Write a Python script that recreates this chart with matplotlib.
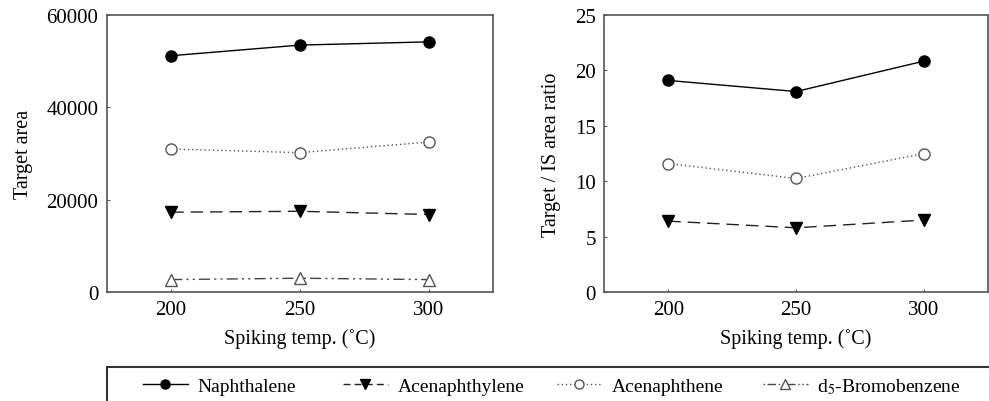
import matplotlib
matplotlib.use("Agg")
import matplotlib.pyplot as plt
from matplotlib.lines import Line2D
from matplotlib.patches import Rectangle

plt.rcParams['font.family'] = ['Liberation Serif', 'DejaVu Serif']
plt.rcParams['mathtext.fontset'] = 'stix'

temps = [200, 250, 300]
series_names = ["Naphthalene", "Acenaphthylene", "Acenaphthene", "d$_5$-Bromobenzene"]

area_naphthalene = [51200, 53500, 54200]
area_acenaphthylene = [17300, 17500, 16800]
area_acenaphthene = [31000, 30200, 32500]
area_bromobenzene = [2700, 3000, 2700]

ratio_naphthalene = [19.1, 18.1, 20.85]
ratio_acenaphthylene = [6.4, 5.8, 6.5]
ratio_acenaphthene = [11.6, 10.25, 12.5]

styles = {
    "Naphthalene": dict(color='black', linestyle='-', marker='o', markerfacecolor='black',
                        markeredgecolor='black', markersize=8, linewidth=1.0),
    "Acenaphthylene": dict(color='#222222', linestyle=(0, (9, 5)), marker='v', markerfacecolor='black',
                           markeredgecolor='black', markersize=9, linewidth=1.0),
    "Acenaphthene": dict(color='#555555', linestyle=(0, (1, 2)), marker='o', markerfacecolor='white',
                         markeredgecolor='#555555', markersize=8, linewidth=1.0),
    "d$_5$-Bromobenzene": dict(color='#444444', linestyle=(0, (8, 3, 1.5, 3, 1.5, 3)), marker='^',
                               markerfacecolor='white', markeredgecolor='#555555', markersize=9, linewidth=1.0),
}
legend_styles = {
    "Naphthalene": dict(color='black', linestyle='-', marker='o', markerfacecolor='black',
                        markeredgecolor='black', markersize=6.5, linewidth=1.0),
    "Acenaphthylene": dict(color='#222222', linestyle=(0, (5, 3)), marker='v', markerfacecolor='black',
                           markeredgecolor='black', markersize=7, linewidth=1.0),
    "Acenaphthene": dict(color='#555555', linestyle=(0, (1, 2)), marker='o', markerfacecolor='white',
                         markeredgecolor='#555555', markersize=6.5, linewidth=1.0),
    "d$_5$-Bromobenzene": dict(color='#444444', linestyle=(0, (1, 2, 6, 2, 1, 2)), marker='^',
                               markerfacecolor='white', markeredgecolor='#555555', markersize=7, linewidth=1.0),
}

W, H = 989, 402
fig = plt.figure(figsize=(W / 100, H / 100), dpi=100)
ax1 = fig.add_axes([0.108, 0.271, 0.3905, 0.689])
ax2 = fig.add_axes([0.611, 0.271, 0.388, 0.689])

left_data = [area_naphthalene, area_acenaphthylene, area_acenaphthene, area_bromobenzene]
for name, vals in zip(series_names, left_data):
    ax1.plot(temps, vals, **styles[name])
right_data = [ratio_naphthalene, ratio_acenaphthylene, ratio_acenaphthene]
for name, vals in zip(series_names[:3], right_data):
    ax2.plot(temps, vals, **styles[name])

ax1.set_ylim(0, 60000)
ax1.set_yticks([0, 20000, 40000, 60000])
ax2.set_ylim(0, 25)
ax2.set_yticks([0, 5, 10, 15, 20, 25])
for ax in (ax1, ax2):
    ax.set_xlim(175, 325)
    ax.set_xticks(temps)
    ax.tick_params(labelsize=15, direction='in', length=2, color='#555555', pad=6)
    for s in ax.spines.values():
        s.set_color('#555555')
        s.set_linewidth(1.2)
    ax.set_xlabel("Spiking temp. (˚C)", fontsize=14.5, labelpad=6)

ax1.set_ylabel("Target area", fontsize=14.5, labelpad=10)
ax2.set_ylabel("Target / IS area ratio", fontsize=14.5, labelpad=10)

# legend box (cut off at figure bottom)
rect = Rectangle((107 / W, -0.1), 1.0, 0.1 + (H - 368) / H, transform=fig.transFigure, fill=False,
                 edgecolor='#333333', linewidth=1.5, clip_on=False)
fig.patches.append(rect)

entry_x = [143, 343, 557, 763]
for name, x in zip(series_names, entry_x):
    h = Line2D([0], [0], **legend_styles[name])
    fig.legend([h], [name], loc='center left', bbox_to_anchor=(x / W, (H - 387) / H),
               frameon=False, fontsize=14, handlelength=2.3, handletextpad=0.5,
               borderpad=0, borderaxespad=0)

fig.savefig("out.png", dpi=100)
